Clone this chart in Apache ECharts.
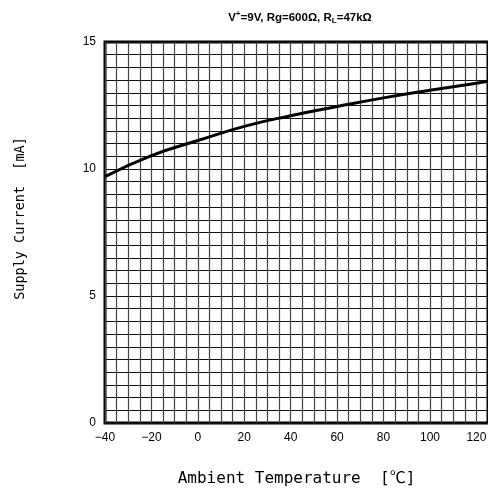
<!DOCTYPE html>
<html>
<head>
<meta charset="utf-8">
<script src="https://cdn.jsdelivr.net/npm/echarts@6/dist/echarts.min.js"></script>
<style>
  html, body { margin: 0; padding: 0; background: #fff; }
  #chart { width: 488px; height: 493px; }
</style>
</head>
<body>
<div id="chart"></div>
<script>
// ambient temperature [°C] and supply current [mA]
var tempC = [-40, -20, 0, 20, 40, 60, 80, 100, 120, 125];
var supplyCurrent = [9.7, 10.53, 11.12, 11.68, 12.1, 12.46, 12.8, 13.1, 13.38, 13.46];
var xLabelTicks = [-40, -20, 0, 20, 40, 60, 80, 100, 120];
var yLabelTicks = [0, 5, 10, 15];

var chart = echarts.init(document.getElementById('chart'));
var mono = "'DejaVu Sans Mono', 'Noto Sans CJK JP', monospace";
var titleFont = "'Liberation Sans Narrow', 'Liberation Sans'";

chart.setOption({
  animation: false,
  title: {
    text: '{b|V}{sup|+}{b|=9V, Rg=600Ω, R}{sub|L}{b|=47kΩ}',
    left: 295,
    top: 5,
    textAlign: 'center',
    textStyle: {
      rich: {
        b: { fontFamily: titleFont, fontWeight: 'bold', fontSize: 11.5, color: '#000' },
        sup: { fontFamily: titleFont, fontWeight: 'bold', fontSize: 8, color: '#000', verticalAlign: 'top', padding: [0, 0, 5, 0] },
        sub: { fontFamily: titleFont, fontWeight: 'bold', fontSize: 8, color: '#000', padding: [7, 0, 0, 0] }
      }
    }
  },
  grid: {
    left: 105,
    right: 0,
    top: 42,
    bottom: 70,
    outerBoundsMode: 'none',
    show: true,
    borderColor: '#000',
    borderWidth: 3,
    backgroundColor: '#fff'
  },
  xAxis: {
    type: 'value',
    min: -40,
    max: 125,
    interval: 5,
    name: 'Ambient Temperature  [℃]',
    nameLocation: 'middle',
    nameGap: 48,
    nameTextStyle: { fontFamily: mono, fontSize: 16, color: '#000', padding: [0, 0, 0, 0] },
    axisLine: { show: false },
    axisTick: { show: false },
    axisLabel: {
      color: '#000',
      fontSize: 12,
      fontFamily: "'Liberation Sans', sans-serif",
      margin: 9,
      formatter: function (v) {
        return xLabelTicks.indexOf(v) >= 0 ? (v < 0 ? '\u2212' + (-v) : String(v)) : '';
      }
    },
    splitLine: { lineStyle: { color: '#444', width: 1.2 } }
  },
  yAxis: {
    type: 'value',
    min: 0,
    max: 15,
    interval: 0.5,
    name: 'Supply Current  [mA]',
    nameLocation: 'middle',
    nameGap: 78,
    nameTextStyle: { fontFamily: mono, fontSize: 13.5, color: '#000', padding: [0, 0, 0, 28] },
    axisLine: { show: false },
    axisTick: { show: false },
    axisLabel: {
      color: '#000',
      fontSize: 12,
      fontFamily: "'Liberation Sans', sans-serif",
      margin: 9,
      formatter: function (v) {
        return yLabelTicks.indexOf(v) >= 0 ? String(v) : '';
      }
    },
    splitLine: { lineStyle: { color: '#111', width: 1 } }
  },
  series: [{
    type: 'line',
    data: tempC.map(function (t, i) { return [t, supplyCurrent[i]]; }),
    smooth: true,
    showSymbol: false,
    lineStyle: { color: '#000', width: 3 }
  }]
});
</script>
</body>
</html>
